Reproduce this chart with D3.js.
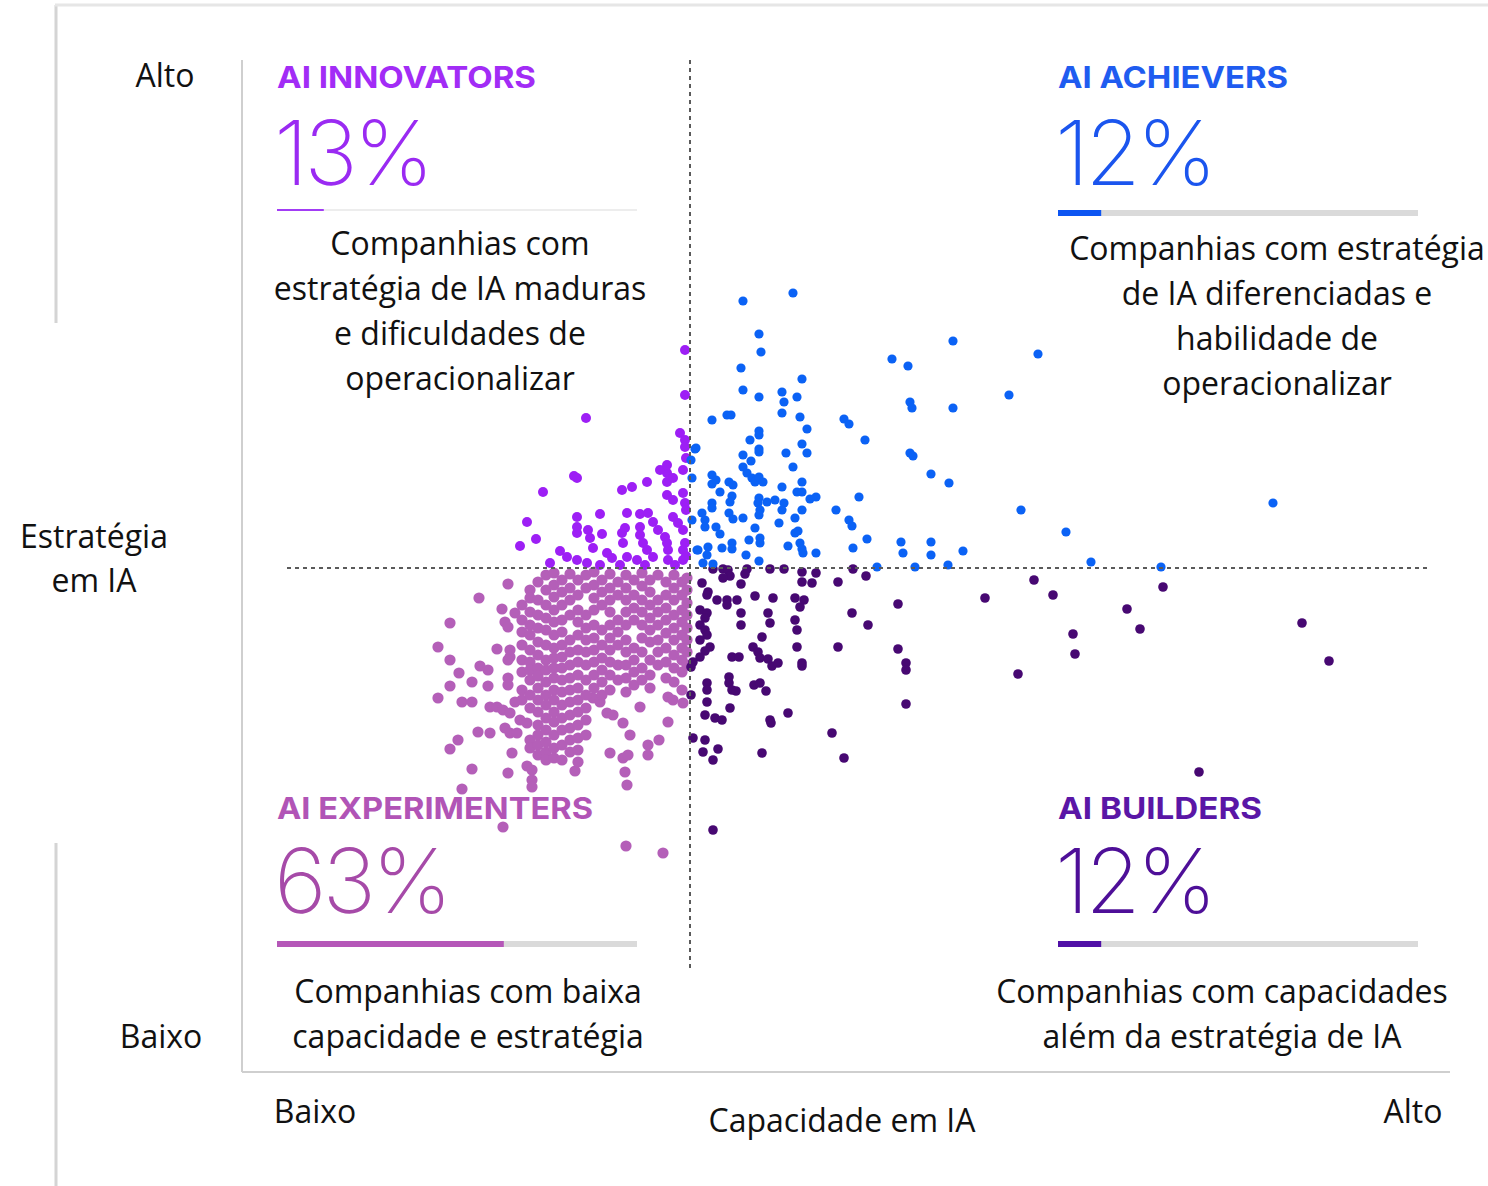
<!DOCTYPE html>
<html><head><meta charset="utf-8">
<script src="https://cdn.jsdelivr.net/npm/d3@7"></script>
<style>body{margin:0;background:#fff}svg{display:block}</style>
</head><body>
<svg id="c" width="1488" height="1186"></svg>
<script>
// ---- DATA (capability score x, strategy score y; 0 = median split) ----
const achievers = [[5.3,26.7],[10.3,27.5],[6.9,23.4],[7.1,21.6],[26.3,22.7],[34.8,21.4],[20.2,20.9],[21.8,20.2],[5.1,20.0],[11.2,18.9],[5.3,17.8],[6.9,17.1],[9.2,17.6],[9.4,16.6],[10.7,17.1],[31.9,17.3],[22.0,16.6],[22.2,16.0],[26.3,16.0],[9.2,15.5],[2.2,14.8],[3.7,15.3],[4.1,15.3],[11.0,15.1],[11.7,13.9],[15.4,14.9],[15.9,14.4],[6.9,13.7],[6.9,13.3],[6.0,12.8],[17.5,12.8],[11.2,12.4],[0.5,11.9],[6.9,11.9],[6.9,11.6],[9.6,11.5],[11.7,11.5],[22.0,11.5],[22.3,11.2],[5.3,11.3],[6.1,10.7],[0.1,10.8],[10.3,10.1],[5.3,10.1],[5.7,9.5],[6.2,9.0],[6.5,8.6],[6.9,9.1],[7.3,8.6],[24.1,9.4],[25.9,8.5],[2.2,9.3],[2.6,8.8],[2.2,8.4],[3.9,8.6],[4.3,8.3],[11.2,8.6],[9.2,8.1],[3.0,7.6],[4.2,7.2],[4.0,6.6],[10.7,7.6],[11.2,7.6],[12.6,7.1],[12.0,6.9],[16.9,7.1],[6.9,7.0],[6.8,6.5],[7.0,5.8],[6.9,5.3],[7.7,6.6],[8.5,6.8],[9.4,6.5],[9.2,5.8],[2.2,6.5],[2.2,6.0],[1.2,5.5],[1.5,4.8],[1.5,4.1],[3.9,5.5],[4.3,4.9],[5.3,5.0],[11.2,5.8],[14.6,5.8],[33.1,5.8],[10.5,5.0],[8.9,4.5],[15.9,4.8],[16.2,4.2],[2.6,4.1],[3.0,3.4],[6.5,4.0],[10.8,3.7],[10.5,3.5],[5.9,2.8],[7.0,3.0],[7.0,2.5],[17.7,2.9],[21.1,2.6],[24.1,2.6],[37.6,3.6],[3.2,2.0],[4.2,2.5],[4.2,1.9],[9.8,2.2],[11.0,2.5],[11.2,1.9],[11.3,1.5],[12.6,1.5],[16.3,2.0],[21.3,1.5],[24.1,1.3],[27.3,1.7],[0.8,1.8],[1.8,2.1],[1.7,1.3],[5.6,1.3],[6.9,0.7],[40.1,0.6],[1.3,0.5],[2.3,0.4],[18.7,0.1],[22.5,0.1],[25.8,0.3],[47.1,0.1],[58.3,6.5],[0.6,12.0],[0.2,9.0],[0.2,4.8],[0.7,1.8]];

const builders = [[2.3,-0.1],[3.3,-0.1],[3.8,-0.2],[4.0,-0.8],[3.3,-1.0],[5.7,-0.1],[5.5,-0.6],[8.0,-0.1],[9.4,-0.1],[11.2,-0.4],[11.2,-1.4],[12.2,-1.5],[12.6,-0.5],[16.3,-0.1],[17.6,-0.8],[14.8,-1.4],[1.2,-1.5],[5.1,-1.6],[1.8,-2.4],[1.7,-2.7],[2.7,-3.2],[3.7,-3.2],[3.7,-3.7],[4.7,-3.2],[6.5,-2.8],[8.3,-3.0],[10.5,-3.0],[11.4,-3.2],[11.0,-3.9],[20.8,-3.6],[34.4,-1.2],[36.3,-2.7],[29.5,-3.0],[43.7,-4.1],[45.0,-6.1],[1.0,-4.2],[1.7,-4.5],[1.5,-5.0],[1.0,-5.7],[1.5,-6.2],[1.7,-6.7],[1.0,-7.2],[5.1,-4.5],[5.1,-5.7],[7.8,-4.5],[8.0,-5.5],[10.5,-5.2],[10.7,-6.2],[16.2,-4.5],[17.8,-5.7],[7.2,-6.9],[2.0,-7.9],[1.5,-8.3],[1.0,-8.9],[0.3,-9.4],[0.1,-9.9],[4.2,-8.9],[4.9,-8.9],[6.3,-7.9],[6.8,-8.4],[7.0,-9.0],[7.8,-9.1],[8.2,-9.8],[8.8,-9.5],[10.7,-7.9],[11.2,-9.5],[11.2,-9.8],[14.8,-7.9],[20.8,-8.1],[21.6,-9.5],[21.6,-10.2],[38.3,-6.6],[38.5,-8.6],[32.8,-10.6],[1.7,-11.5],[1.7,-12.2],[3.9,-10.9],[3.9,-11.5],[4.2,-12.2],[4.6,-12.3],[6.4,-11.7],[7.0,-11.5],[7.6,-12.3],[0.1,-12.7],[1.7,-13.4],[4.0,-14.0],[1.5,-14.7],[2.5,-15.0],[3.2,-15.2],[8.0,-15.2],[8.1,-15.5],[9.8,-14.5],[21.6,-13.6],[14.2,-16.5],[0.3,-17.0],[1.5,-17.2],[1.3,-18.4],[2.8,-18.1],[2.3,-19.2],[7.2,-18.5],[15.4,-19.0],[2.3,-26.2],[47.3,-1.9],[61.2,-5.5],[63.9,-9.3],[50.9,-20.4]];

const innovators = [[-0.5,21.8],[-0.5,17.3],[-10.4,15.0],[-1.0,13.5],[-0.5,12.8],[-0.5,12.1],[-11.6,9.2],[-11.3,9.0],[-14.7,7.6],[-6.8,7.8],[-5.8,8.1],[-4.3,8.6],[-2.3,9.5],[-2.3,8.6],[-1.7,9.0],[-0.7,9.8],[-2.3,7.3],[-1.7,6.8],[-0.7,7.5],[-0.5,6.5],[-16.3,4.6],[-15.4,2.9],[-17.0,2.2],[-11.3,5.1],[-11.3,4.1],[-11.3,3.5],[-9.0,5.4],[-10.2,3.8],[-10.0,3.0],[-8.8,3.4],[-9.7,2.0],[-6.3,5.5],[-6.8,3.5],[-6.5,4.0],[-6.7,2.5],[-5.0,5.4],[-4.2,5.5],[-5.0,4.1],[-5.0,3.3],[-4.7,2.5],[-4.3,1.8],[-3.7,4.6],[-3.2,3.8],[-2.5,3.1],[-2.3,2.5],[-2.2,1.8],[-1.7,5.1],[-1.2,4.5],[-0.7,3.8],[-0.5,2.5],[-0.7,1.8],[-13.0,1.7],[-12.3,1.1],[-8.3,1.5],[-7.8,1.0],[-6.3,1.1],[-5.3,0.8],[-3.7,1.1],[-2.2,0.8],[-0.7,0.8],[-11.3,0.8],[-10.3,0.5],[-9.0,0.3],[-7.0,0.3],[-4.5,0.3],[-1.5,0.3],[-14.0,0.5],[-0.4,11.0],[-0.4,5.8],[-0.4,1.2],[-3.0,9.8],[-2.3,10.3]];

const experimenterOutliers = [[-18.2,-1.6],[-21.1,-3.0],[-18.8,-4.1],[-17.5,-4.5],[-24.0,-5.5],[-18.5,-5.4],[-18.2,-5.9],[-25.2,-7.9],[-24.0,-9.2],[-23.1,-10.5],[-21.8,-11.4],[-21.0,-9.8],[-20.2,-10.2],[-24.0,-11.8],[-25.2,-13.0],[-22.8,-13.4],[-21.8,-13.4],[-20.2,-11.8],[-19.3,-8.1],[-18.0,-8.2],[-18.0,-8.9],[-18.2,-9.2],[-18.2,-11.0],[-18.2,-11.7],[-20.0,-13.9],[-19.3,-13.9],[-18.7,-14.2],[-18.0,-14.5],[-17.5,-13.4],[-21.2,-16.4],[-20.0,-16.5],[-23.2,-17.2],[-24.0,-18.1],[-18.5,-16.0],[-18.0,-16.5],[-17.3,-16.5],[-17.0,-15.2],[-16.3,-15.5],[-21.8,-20.1],[-17.8,-18.5],[-18.2,-20.5],[-16.3,-19.8],[-15.8,-20.2],[-15.8,-21.2],[-15.8,-21.9],[-11.5,-20.3],[-22.8,-22.1],[-18.7,-25.9],[-8.0,-18.5],[-6.7,-19.0],[-6.2,-18.7],[-6.5,-20.4],[-6.3,-21.7],[-4.2,-17.7],[-4.2,-18.7],[-3.1,-17.2],[-6.0,-16.7],[-2.2,-15.4],[-2.2,-12.9],[-1.7,-13.2],[-0.7,-13.5],[-5.0,-13.9],[-6.7,-15.5],[-8.3,-14.5],[-7.7,-14.7],[-9.7,-13.0],[-9.0,-13.4],[-6.4,-27.8],[-2.7,-28.5]];

// dense core of experimenters, read column by column (x, list of y)
const experimenterColumns = [
  {x:-16.8, ys:[-3.7,-5.2,-6.4,-7.7,-9.2,-10.4,-12.2,-13.2]},
  {x:-16.0, ys:[-2.2,-3.0,-4.4,-5.7,-6.7,-8.2,-9.4,-10.2,-11.2,-12.7,-14.0,-17.2,-18.0]},
  {x:-15.2, ys:[-1.4,-3.2,-4.7,-6.0,-7.4,-8.7,-10.0,-10.8,-12.0,-13.2,-14.4,-15.7,-16.7,-17.7,-18.7]},
  {x:-14.4, ys:[-0.7,-2.2,-3.7,-5.0,-6.2,-7.7,-9.2,-10.2,-11.4,-12.7,-13.7,-15.0,-16.2,-17.4,-18.4,-19.2]},
  {x:-13.6, ys:[-0.5,-1.7,-2.9,-4.2,-5.4,-6.7,-8.0,-9.0,-10.0,-11.0,-12.2,-13.2,-14.4,-15.4,-16.7,-18.0,-19.0]},
  {x:-12.8, ys:[-1.2,-2.4,-3.7,-5.2,-6.4,-7.7,-8.9,-10.0,-11.2,-12.4,-13.7,-15.0,-16.2,-17.7,-19.2]},
  {x:-12.0, ys:[-0.6,-2.0,-3.2,-4.7,-7.2,-8.4,-9.7,-11.0,-12.2,-13.4,-14.7,-16.0,-17.2,-18.4]},
  {x:-11.2, ys:[-1.2,-2.7,-4.2,-5.4,-6.7,-8.2,-9.4,-10.7,-12.0,-13.2,-14.4,-15.7,-17.0,-18.2,-19.4]},
  {x:-10.4, ys:[-0.7,-2.0,-4.7,-6.0,-7.2,-8.4,-9.7,-11.2,-12.7,-14.0,-15.2,-16.7]},
  {x:-9.6,  ys:[-0.4,-1.7,-3.0,-4.2,-5.7,-7.0,-8.2,-9.4,-10.7,-12.0]},
  {x:-8.8,  ys:[-1.2,-2.4,-3.7,-6.2,-7.7,-9.0,-10.2,-11.4,-12.7]},
  {x:-8.0,  ys:[-0.6,-2.0,-3.2,-4.4,-5.7,-7.0,-8.2,-9.4,-10.7,-12.2]},
  {x:-7.2,  ys:[-1.4,-2.7,-5.2,-6.4,-7.7,-9.7,-11.2]},
  {x:-6.4,  ys:[-0.7,-2.0,-3.2,-4.4,-5.7,-7.2,-8.4,-9.7,-11.0,-12.4]},
  {x:-5.6,  ys:[-1.2,-2.7,-4.0,-5.2,-8.0,-9.2,-10.4,-11.7]},
  {x:-4.8,  ys:[-0.5,-1.8,-3.2,-4.4,-5.7,-7.0,-8.4,-10.0,-11.2]},
  {x:-4.0,  ys:[-1.2,-2.4,-3.7,-5.0,-6.2,-7.4,-9.2,-10.7,-12.0]},
  {x:-3.2,  ys:[-0.7,-3.2,-4.4,-5.7,-7.2,-8.4,-9.7]},
  {x:-2.4,  ys:[-1.4,-2.7,-4.0,-5.2,-6.5,-8.0,-9.4,-11.0]},
  {x:-1.6,  ys:[-0.7,-2.0,-3.2,-4.7,-6.0,-7.2,-8.7,-10.0,-11.4]},
  {x:-0.8,  ys:[-1.4,-2.7,-4.2,-5.4,-6.7,-8.0,-9.2,-10.4,-12.2]},
  {x:-0.3,  ys:[-1.0,-2.2,-3.5,-4.7,-6.0,-7.2,-8.4,-9.7]}
];

const groupNames  = ["AI INNOVATORS", "AI ACHIEVERS", "AI EXPERIMENTERS", "AI BUILDERS"];
const groupShares = [13, 12, 63, 12];
const groupDescriptions = [
  ["Companhias com", "estratégia de IA maduras", "e dificuldades de", "operacionalizar"],
  ["Companhias com estratégia", "de IA diferenciadas e", "habilidade de", "operacionalizar"],
  ["Companhias com baixa", "capacidade e estratégia"],
  ["Companhias com capacidades", "além da estratégia de IA"]
];
const yAxisTitle = ["Estratégia", "em IA"];
const xAxisTitle = "Capacidade em IA";
const lowLabel = "Baixo", highLabel = "Alto";

// ---- STYLE / LAYOUT ----
const colors = {innov:"#9d1ff5", achiev:"#0b62f5", exper:"#b45fb8", build:"#470872"};
const titleColors = ["#a22cf6", "#1f5cf0", "#b154b6", "#5a16a6"];
const numColors   = ["#9a2af2", "#1b55ee", "#a64aa8", "#4e0f98"];
const barColors   = ["#a23cf5", "#0d55f2", "#b557b8", "#5010a6"];
const titleWidths = [259, 230, 316, 204];

const svg = d3.select("#c");
const x = d3.scaleLinear().domain([-44.8, 76]).range([242, 1450]);
const y = d3.scaleLinear().domain([-50.4, 50.8]).range([1072, 60]);
const font = "'Open Sans', 'Noto Sans', sans-serif";
const fs = 32;

// frame lines (screenshot border)
const frame = svg.append("g").attr("stroke", "#d4d4d4").attr("stroke-width", 3);
frame.append("line").attr("x1", 56).attr("x2", 56).attr("y1", 5).attr("y2", 323);
frame.append("line").attr("x1", 56).attr("x2", 56).attr("y1", 843).attr("y2", 1186);
frame.append("line").attr("x1", 55).attr("x2", 1488).attr("y1", 5).attr("y2", 5).attr("stroke", "#e6e6e6");

// axes
const axisG = svg.append("g").attr("stroke", "#cfcfcf").attr("stroke-width", 2);
axisG.append("line").attr("x1", x(-44.8)).attr("x2", x(-44.8)).attr("y1", y(50.8)).attr("y2", y(-50.4));
axisG.append("line").attr("x1", x(-44.8)).attr("x2", x(76)).attr("y1", y(-50.4)).attr("y2", y(-50.4));

// quadrant labels
const quads = [
  {tx: 277, ty: 88, ny: 185, by: 210, thin: true, cx: 460, dy: 255},
  {tx: 1058, ty: 88, ny: 185, by: 213, thin: false, cx: 1277, dy: 260},
  {tx: 277, ty: 819, ny: 913, by: 944, thin: false, cx: 468, dy: 1003},
  {tx: 1058, ty: 819, ny: 913, by: 944, thin: false, cx: 1222, dy: 1003}
];
const barW = d3.scaleLinear().domain([0, 100]).range([0, 360]);

quads.forEach((q, i) => {
  const g = svg.append("g");
  g.append("text").attr("x", q.tx).attr("y", q.ty)
    .attr("font-family", "Inter, 'Liberation Sans', sans-serif").attr("font-weight", 700)
    .attr("font-size", 30).attr("textLength", titleWidths[i]).attr("lengthAdjust", "spacingAndGlyphs")
    .attr("fill", titleColors[i]).text(groupNames[i]);
  g.append("text").attr("x", q.tx - 3).attr("y", q.ny)
    .attr("font-family", "Inter, Lato, sans-serif").attr("font-weight", 200)
    .attr("font-size", 90).attr("letter-spacing", -4).attr("fill", numColors[i]).text(groupShares[i] + "%");
  const h = q.thin ? 1.5 : 6;
  g.append("rect").attr("x", q.tx).attr("y", q.by - h / 2).attr("width", barW(100)).attr("height", h).attr("fill", q.thin ? "#e8e8e8" : "#dadada");
  g.append("rect").attr("x", q.tx).attr("y", q.by - (q.thin ? 1 : 3)).attr("width", barW(groupShares[i])).attr("height", q.thin ? 2 : 6).attr("fill", barColors[i]);
});

// points
const pts = svg.append("g");
const experimenters = experimenterOutliers.concat(experimenterColumns.flatMap(c => c.ys.map(v => [c.x, v])));
function dots(data, color, r) {
  pts.append("g").selectAll("circle").data(data).join("circle")
    .attr("cx", d => x(d[0])).attr("cy", d => y(d[1])).attr("r", r).attr("fill", color);
}
dots(experimenters, colors.exper, 5.6);
dots(builders, colors.build, 4.8);
dots(innovators, colors.innov, 5);
dots(achievers, colors.achiev, 4.6);

// median dashed lines
const dash = svg.append("g").attr("stroke", "#5a5a5a").attr("stroke-width", 2).attr("stroke-dasharray", "4,4");
dash.append("line").attr("x1", x(0)).attr("x2", x(0)).attr("y1", 60).attr("y2", 970);
dash.append("line").attr("x1", 287).attr("x2", 1430).attr("y1", y(0)).attr("y2", y(0));

// descriptions
quads.forEach((q, i) => {
  svg.append("g").selectAll("text").data(groupDescriptions[i]).join("text")
    .attr("x", q.cx).attr("y", (d, j) => q.dy + j * 45)
    .attr("text-anchor", "middle").attr("font-family", font).attr("font-size", fs)
    .attr("fill", "#111").text(d => d);
});

// axis titles
const lab = svg.append("g").attr("font-family", font).attr("font-size", fs).attr("fill", "#111");
lab.append("text").attr("x", 165).attr("y", 87).attr("text-anchor", "middle").text(highLabel);
lab.append("text").attr("x", 161).attr("y", 1048).attr("text-anchor", "middle").text(lowLabel);
lab.append("text").attr("x", 94).attr("y", 548).attr("text-anchor", "middle").text(yAxisTitle[0]);
lab.append("text").attr("x", 94).attr("y", 592).attr("text-anchor", "middle").text(yAxisTitle[1]);
lab.append("text").attr("x", 315).attr("y", 1123).attr("text-anchor", "middle").text(lowLabel);
lab.append("text").attr("x", 842).attr("y", 1132).attr("text-anchor", "middle").text(xAxisTitle);
lab.append("text").attr("x", 1413).attr("y", 1123).attr("text-anchor", "middle").text(highLabel);
</script>
</body></html>
